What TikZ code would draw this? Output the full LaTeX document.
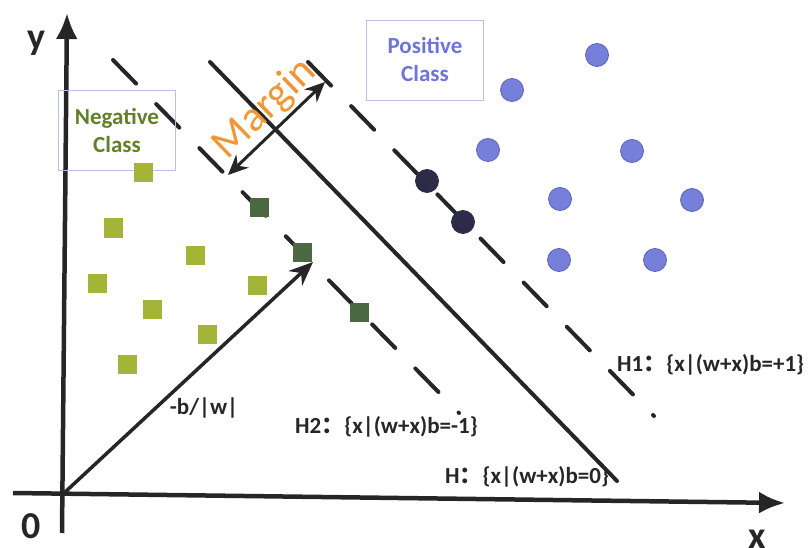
\documentclass[tikz,border=0pt]{standalone}
\usepackage{fontspec}
\setmainfont{Carlito}
\newfontfamily\cjk{Noto Sans CJK SC}
\usepackage{xcolor}
\usepackage{tikz}
\usetikzlibrary{arrows.meta,positioning,calc}
\definecolor{ink}{RGB}{38,38,40}
\definecolor{negcol}{RGB}{164,180,54}
\definecolor{negsv}{RGB}{74,104,66}
\definecolor{poscol}{RGB}{118,128,218}
\definecolor{posedge}{RGB}{92,98,180}
\definecolor{possv}{RGB}{44,44,72}
\definecolor{negtxt}{RGB}{98,128,40}
\definecolor{postxt}{RGB}{108,118,216}
\definecolor{boxcol}{RGB}{188,190,240}
\definecolor{margcol}{RGB}{240,150,50}
\tikzset{
  negpt/.style={fill=negcol,minimum size=19pt,inner sep=0pt},
  svsq/.style={negpt,fill=negsv},
  pospt/.style={circle,fill=poscol,draw=posedge,line width=0.8pt,minimum size=23pt,inner sep=0pt},
  svdot/.style={pospt,fill=possv,draw=possv},
  hyp/.style={ink,line width=4pt,line cap=round},
  dhyp/.style={hyp,dash pattern=on 33pt off 28.7pt},
  axis/.style={ink,line width=4.5pt,-{Latex[length=26pt,width=22pt]}},
  arr/.style={ink,line width=3.5pt,-{Stealth[length=24pt,width=20pt]}},
  darr/.style={ink,line width=3pt,{Stealth[length=20pt,width=18pt]}-{Stealth[length=20pt,width=18pt]}},
  classbox/.style={draw=boxcol,line width=0.6pt,align=center,font=\fontsize{23}{28}\selectfont\bfseries,minimum width=117pt,minimum height=80pt,inner sep=0pt},
  eq/.style={font=\fontsize{23}{26}\selectfont\bfseries,text=ink,anchor=west,inner sep=0pt},
  axlab/.style={font=\fontsize{38}{40}\selectfont\bfseries,text=ink,inner sep=0pt},
}
\begin{document}
\begin{tikzpicture}[x=1pt,y=-1pt]
\useasboundingbox (0,0) rectangle (811,548);
% axes
\coordinate (O) at (63,494);
\coordinate (xl) at (13,493); \coordinate (xr) at (785,503);
\coordinate (yb) at (62,533); \coordinate (yt) at (67,13);
\draw[axis] (xl) -- (xr);
\draw[axis] (yb) -- (yt);
\node[axlab] (ylab) at (36,43) {y};
\node[axlab] (olab) at (31,526) {0};
\node[axlab] (xlab) at (757,539) {x};
% hyperplanes
\coordinate (Hs) at (210,62);  \coordinate (He) at (617,481);
\coordinate (H1s) at (308,62); \coordinate (H1e) at (654,416);
\coordinate (H2s) at (113,60); \coordinate (H2e) at (459,413);
\draw[hyp] (Hs) -- (He);
\draw[dhyp] (H1s) -- (H1e);
\draw[dhyp] (H2s) -- (H2e);
% margin
\coordinate (m1) at (228,175); \coordinate (m2) at (325,82);
\draw[darr] (m1) -- (m2);
\node[text=margcol,font=\fontsize{43}{43}\selectfont,rotate=44,inner sep=0pt] (marg) at (265,109) {Margin};
% class boxes
\node[classbox,text=negtxt] (negbox) at (117,130) {Negative\\Class};
\node[classbox,text=postxt] (posbox) at (425,60) {Positive\\Class};
% negative points
\node[negpt] (n1) at (143,173) {}; \node[negpt] (n2) at (113,228) {};
\node[negpt] (n3) at (195,255) {}; \node[negpt] (n4) at (97,283) {};
\node[negpt] (n5) at (257,285) {}; \node[negpt] (n6) at (152,309) {};
\node[negpt] (n7) at (207,334) {}; \node[negpt] (n8) at (127,364) {};
\node[svsq] (sn1) at (259,208) {}; \node[svsq] (sn2) at (302,252) {};
\node[svsq] (sn3) at (359,312) {};
% positive points
\node[pospt] (p1) at (597,55) {};  \node[pospt] (p2) at (512,90) {};
\node[pospt] (p3) at (488,150) {}; \node[pospt] (p4) at (632,151) {};
\node[pospt] (p5) at (560,199) {}; \node[pospt] (p6) at (692,200) {};
\node[pospt] (p7) at (559,260) {}; \node[pospt] (p8) at (655,260) {};
\node[svdot] (sp1) at (427,181) {}; \node[svdot] (sp2) at (463,222) {};
% offset vector
\coordinate (wtip) at (313,262);
\draw[arr] (O) -- (wtip);
\node[font=\fontsize{23}{26}\selectfont\bfseries,text=ink,inner sep=0pt] (blab) at (204,408) {-b/|w|};
% equations
\node[eq] (h2lab) at (295,427) {H2{\cjk ：}\{x|(w+x)b=-1\}};
\node[eq] (h1lab) at (617,365) {H1{\cjk ：}\{x|(w+x)b=+1\}};
\node[eq] (hlab) at (445,477) {H{\cjk ：}\{x|(w+x)b=0\}};
\end{tikzpicture}
\end{document}
